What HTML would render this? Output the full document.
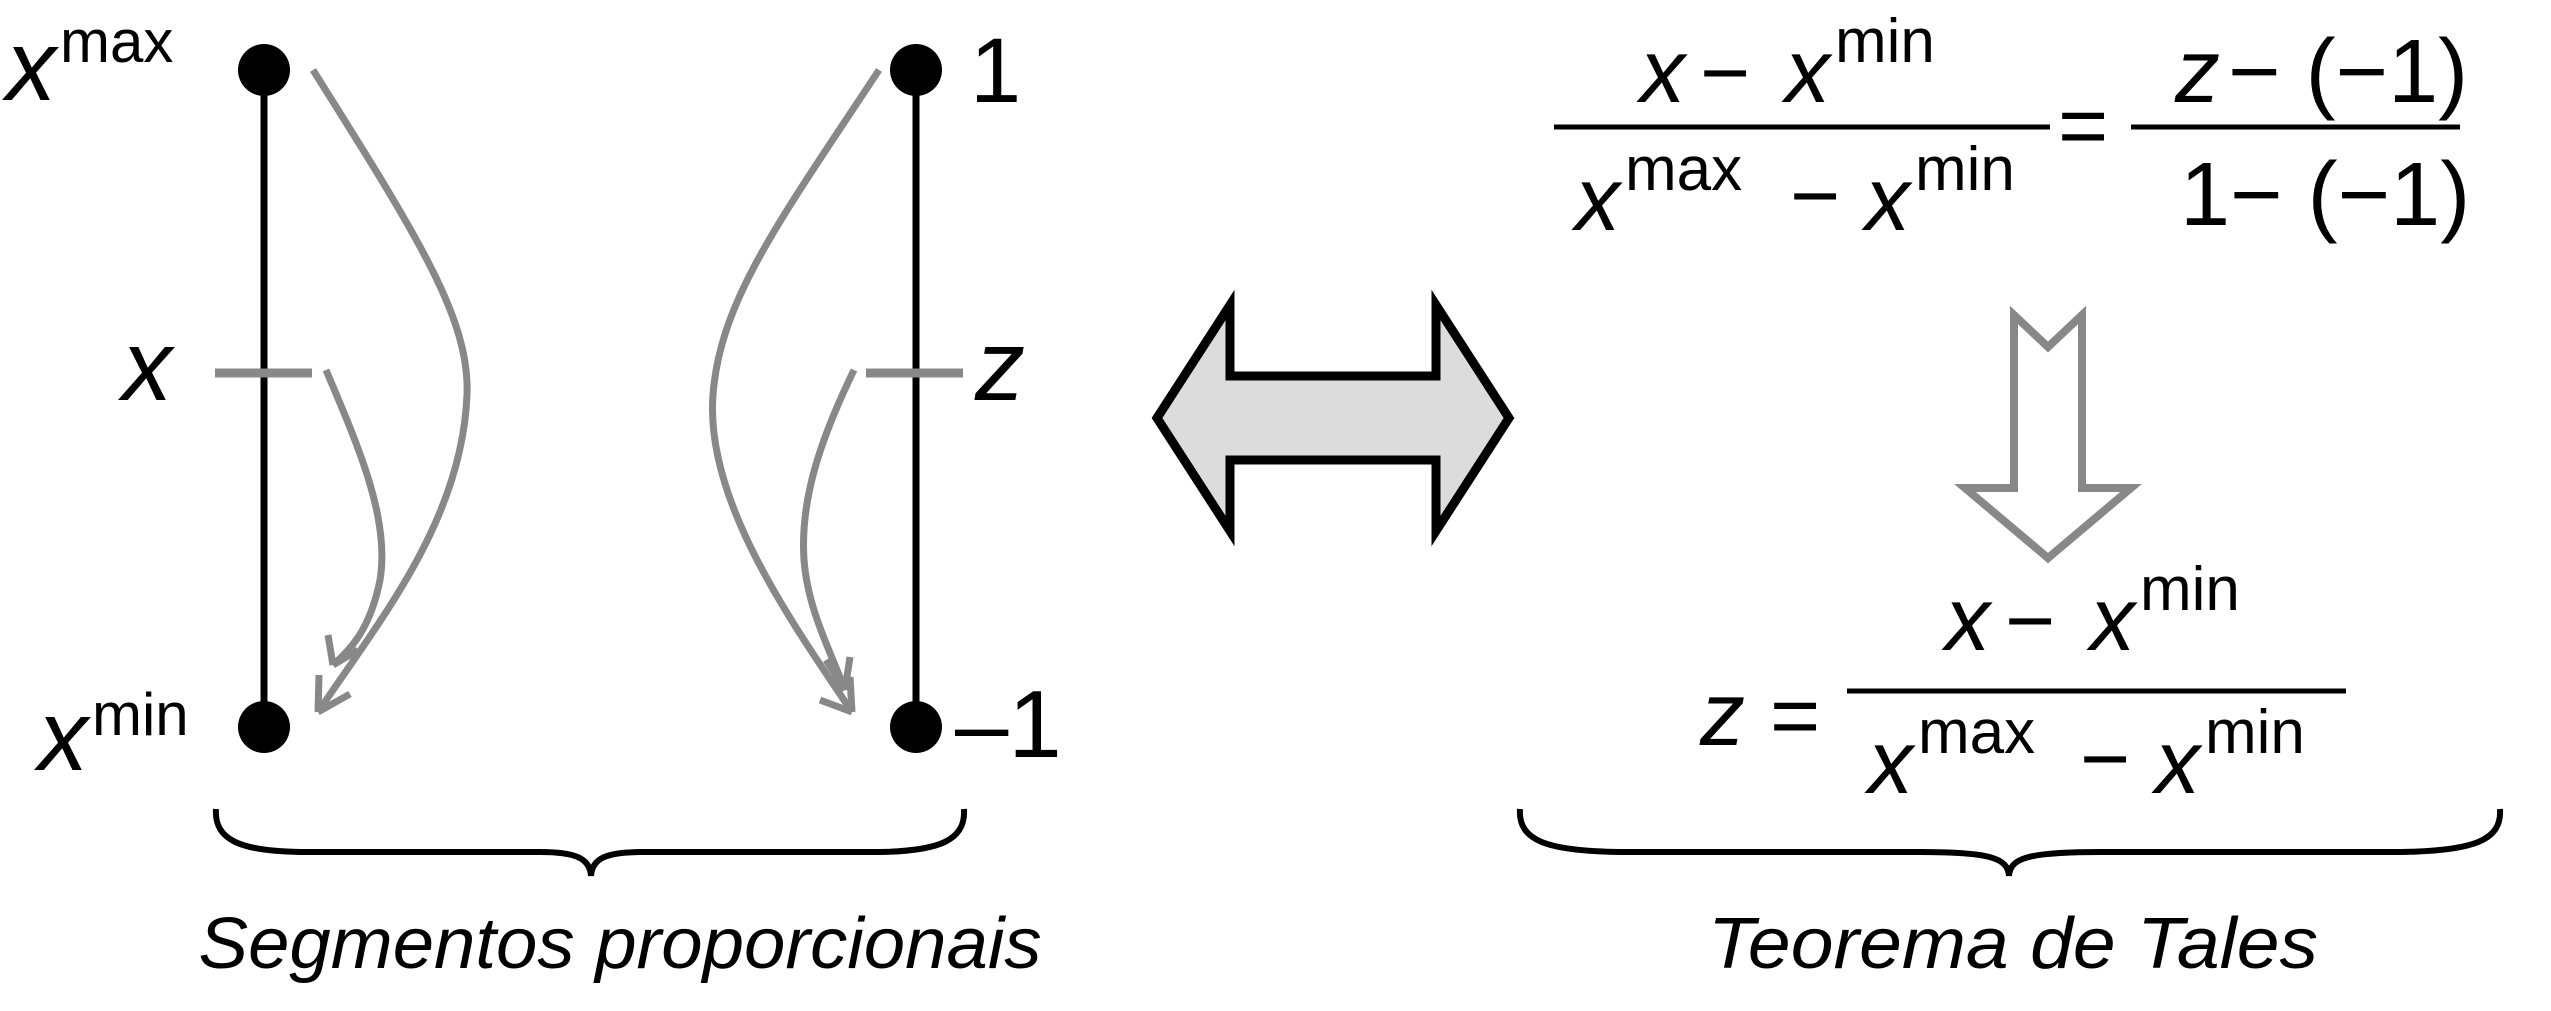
<!DOCTYPE html>
<html><head><meta charset="utf-8"><style>html,body{margin:0;padding:0;background:#fff}svg{display:block}</style></head>
<body>
<svg width="2551" height="1011" viewBox="0 0 2551 1011" xmlns="http://www.w3.org/2000/svg" font-family="Liberation Sans, Arial, sans-serif">
<g>
<line x1="264" y1="70" x2="264" y2="727" stroke="#000" stroke-width="7"/>
<circle cx="264" cy="70" r="26" fill="#000"/>
<circle cx="264" cy="727" r="26" fill="#000"/>
<line x1="215" y1="373" x2="312" y2="373" stroke="#888" stroke-width="9"/>
<text x="6" y="100" font-size="100" font-style="italic">x</text>
<text x="60" y="62" font-size="60">max</text>
<text x="122" y="400" font-size="100" font-style="italic">x</text>
<text x="38" y="770" font-size="100" font-style="italic">x</text>
<text x="92" y="735" font-size="60">min</text>
</g>
<g>
<line x1="916" y1="70" x2="916" y2="727" stroke="#000" stroke-width="7"/>
<circle cx="916" cy="70" r="26" fill="#000"/>
<circle cx="916" cy="727" r="26" fill="#000"/>
<line x1="866" y1="373" x2="963" y2="373" stroke="#888" stroke-width="9"/>
<text x="970" y="102" font-size="92">1</text>
<text x="975" y="400" font-size="100" font-style="italic">z</text>
<text x="955" y="757" font-size="96">–1</text>
</g>
<g fill="none" stroke="#888" stroke-width="7">
<path d="M313,70 C420,240 470,320 467,395 C462,520 380,620 318,712"/>
<path d="M326,370 C360,450 390,520 380,580 C370,630 350,650 333,665"/>
<path d="M879,70 C780,220 720,300 713,395 C705,500 790,620 852,712"/>
<path d="M854,370 C820,440 800,500 804,560 C808,610 830,650 845,690"/>
<path d="M318,712 L319,675 M318,712 L350,694"/>
<path d="M333,665 L328,635 M333,665 L358,650"/>
<path d="M852,712 L820,700 M852,712 L850,677"/>
<path d="M845,690 L826,660 M845,690 L850,657"/>
</g>
<path d="M216,809 C214,840 240,851 300,852 L540,852 C575,852 590,858 591,876 C592,858 607,852 642,852 L880,852 C940,851 966,840 964,809" fill="none" stroke="#000" stroke-width="6"/>
<text x="620" y="968" font-size="72" font-style="italic" text-anchor="middle" textLength="843" lengthAdjust="spacingAndGlyphs">Segmentos proporcionais</text>
<polygon points="1157,418 1230,305 1230,376 1436,376 1436,305 1509,418 1436,531 1436,460 1230,460 1230,531" fill="#dcdcdc" stroke="#000" stroke-width="9" stroke-linejoin="miter"/>
<g>
<text x="1640" y="102" font-size="90" font-style="italic">x</text>
<text x="1700" y="102" font-size="86">−</text>
<text x="1785" y="102" font-size="90" font-style="italic">x</text>
<text x="1835" y="62" font-size="62">min</text>
<line x1="1554" y1="127" x2="2050" y2="127" stroke="#000" stroke-width="5"/>
<text x="1575" y="230" font-size="90" font-style="italic">x</text>
<text x="1625" y="190" font-size="62">max</text>
<text x="1790" y="225" font-size="86">−</text>
<text x="1865" y="230" font-size="90" font-style="italic">x</text>
<text x="1915" y="190" font-size="62">min</text>
<text x="2058" y="155" font-size="86">=</text>
<text x="2175" y="102" font-size="90" font-style="italic">z</text>
<text x="2228" y="102" font-size="90">− (−1)</text>
<line x1="2131" y1="127" x2="2460" y2="127" stroke="#000" stroke-width="5"/>
<text x="2180" y="225" font-size="90">1− (−1)</text>
</g>
<polygon points="2014,315 2048,347 2082,315 2082,488 2131,488 2048,558 1965,488 2014,488" fill="#fff" stroke="#888" stroke-width="8"/>
<g>
<text x="1700" y="745" font-size="90" font-style="italic">z</text>
<text x="1770" y="745" font-size="86">=</text>
<text x="1945" y="650" font-size="90" font-style="italic">x</text>
<text x="2005" y="650" font-size="86">−</text>
<text x="2090" y="650" font-size="90" font-style="italic">x</text>
<text x="2140" y="610" font-size="62">min</text>
<line x1="1847" y1="691" x2="2346" y2="691" stroke="#000" stroke-width="5"/>
<text x="1868" y="793" font-size="90" font-style="italic">x</text>
<text x="1918" y="753" font-size="62">max</text>
<text x="2080" y="788" font-size="86">−</text>
<text x="2155" y="793" font-size="90" font-style="italic">x</text>
<text x="2205" y="753" font-size="62">min</text>
</g>
<path d="M1520,809 C1518,840 1545,851 1620,852 L1920,852 C1990,852 2008,858 2009,876 C2010,858 2028,852 2100,852 L2400,852 C2475,851 2502,840 2500,809" fill="none" stroke="#000" stroke-width="6"/>
<text x="2013" y="968" font-size="72" font-style="italic" text-anchor="middle" textLength="610" lengthAdjust="spacingAndGlyphs">Teorema de Tales</text>
</svg>
</body></html>
